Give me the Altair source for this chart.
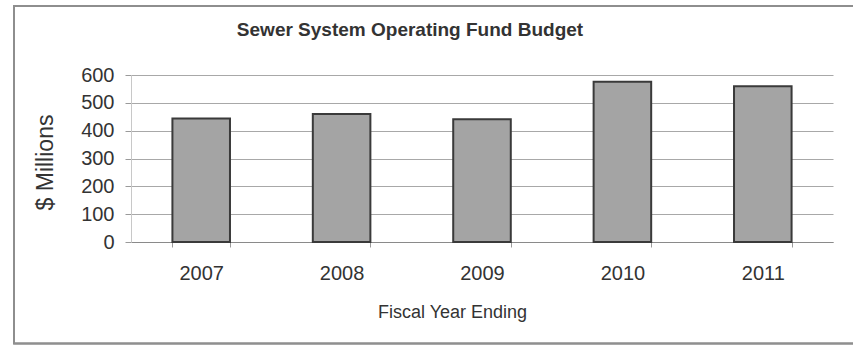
import altair as alt
import pandas as pd

years = ["2007", "2008", "2009", "2010", "2011"]
budget = [444, 460, 441, 576, 560]
y_ticks = [0, 100, 200, 300, 400, 500, 600]
chart_title = ["Sewer System Operating Fund Budget"]

df = pd.DataFrame({"Year": years, "Budget": budget})
tdf = pd.DataFrame({"t": chart_title})

FONT = "Liberation Sans"
TXT = "#333333"

bars = alt.Chart(df).mark_bar(
    fill="#a4a4a4", stroke="#3a3a3a", strokeWidth=2
).encode(
    x=alt.X("Year:N", sort=years,
            scale=alt.Scale(paddingInner=0.59, paddingOuter=0.295),
            axis=alt.Axis(title="Fiscal Year Ending", labelAngle=0, tickBand="extent",
                          tickSize=5, tickColor="#9a9a9a", domainColor="#8a8a8a",
                          labelFontSize=20, labelColor=TXT, labelFont=FONT,
                          labelPadding=16, labelBaseline="top",
                          titleFontSize=18, titleFontWeight="normal", titleColor=TXT,
                          titleFont=FONT, titleX=321, titleY=70, titleBaseline="middle",
                          titleAnchor="middle", grid=False)),
    y=alt.Y("Budget:Q",
            scale=alt.Scale(domain=[0, 600], nice=False),
            axis=alt.Axis(title="$ Millions", values=y_ticks, tickSize=6,
                          tickColor="#9a9a9a", domainColor="#c8c8c8",
                          labelFontSize=20, labelColor=TXT, labelFont=FONT,
                          labelPadding=11,
                          gridColor="#a8a8a8", gridWidth=1,
                          titleFontSize=23, titleFontWeight="normal", titleColor=TXT,
                          titleFont=FONT, titleX=-86, titleY=87, titleAngle=-90,
                          titleBaseline="middle", titleAlign="center")),
)

frame = alt.Chart(df).mark_rect(
    fill="transparent", stroke="#8f8f8f", strokeWidth=1.5
).encode(
    x=alt.value(-117), x2=alt.value(740), y=alt.value(-69), y2=alt.value(268.5)
)

title = alt.Chart(tdf).mark_text(
    font=FONT, fontSize=19, fontWeight="bold", color=TXT,
    align="center", baseline="middle"
).encode(
    x=alt.value(279), y=alt.value(-45), text="t:N"
)

chart = alt.layer(frame, bars, title).properties(
    width=702, height=167,
    padding={"left": 131, "top": 75, "right": 20, "bottom": 104},
    autosize=alt.AutoSizeParams(type="none"),
    background="white",
).configure_view(stroke=None)

chart.save("out.html", embed_options={"renderer": "svg", "actions": False})
